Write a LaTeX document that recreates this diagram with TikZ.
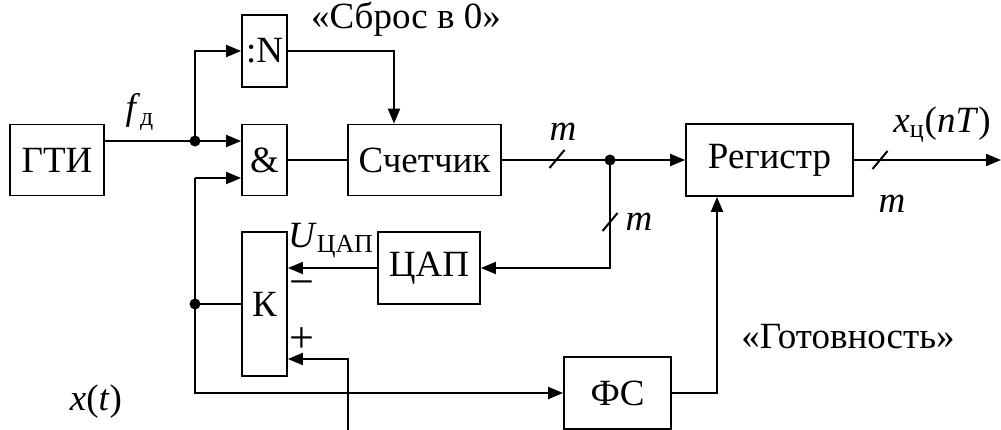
\documentclass[tikz,border=0pt]{standalone}
\usepackage{fontspec}
\setmainfont{Liberation Serif}
\usetikzlibrary{arrows.meta,calc}
\tikzset{
  blk/.style={draw, line width=0.9pt, inner sep=0pt, font=\fontsize{18.5}{20}\selectfont},
  wire/.style={line width=1pt},
  arr/.style={wire, -{Triangle[length=7.5pt,width=6pt]}},
  jdot/.style={circle, fill, inner sep=0pt, minimum size=5.5pt},
  lbl/.style={font=\fontsize{18.5}{20}\selectfont, inner sep=0pt}
}
\newcommand{\busmark}[1]{\draw[wire] (#1) ++(-7.5,9) -- ++(15,-18);}

\begin{document}
\begin{tikzpicture}[x=0.5pt,y=-0.5pt]
\useasboundingbox (0,0) rectangle (1001,429);
\clip (0,0) rectangle (1001,429);
\node[blk, minimum width=47pt, minimum height=35.5pt] (gti) at (57,160) {ГТИ};
\node[blk, minimum width=22.5pt, minimum height=36pt] (divN) at (264.5,51) {:N};
\node[blk, minimum width=22.5pt, minimum height=35.5pt] (andg) at (264.5,160) {\&};
\node[blk, minimum width=76.5pt, minimum height=35.5pt] (cnt) at (424.5,160) {Счетчик};
\node[blk, minimum width=83.5pt, minimum height=36pt] (reg) at (769.5,160) {Регистр};
\node[blk, minimum width=51pt, minimum height=36pt] (dac) at (429,268) {ЦАП};
\node[blk, minimum width=22.5pt, minimum height=72pt] (comp) at (264.5,304) {К};
\node[blk, minimum width=53.5pt, minimum height=36pt] (fs) at (617.5,393) {ФС};

\node[jdot] (j1) at (195,141) {};
\node[jdot] (j2) at (610,160) {};
\node[jdot] (j3) at (195,304) {};
\coordinate (a2) at ($(andg.west)+(0,18)$);
\coordinate (xin) at (348,440);
\coordinate (out) at (1001,160);

\draw[wire] (gti.east |- j1) -- (j1.center);
\draw[arr] (j1.center) -- (andg.west |- j1);
\draw[arr] (j1.center) |- (divN.west);
\draw[arr] (divN.east) -| ($(cnt.north)+(-30.5,0)$);
\draw[wire] (andg.east) -- (cnt.west);
\draw[arr] (cnt.east) -- (reg.west);
\draw[arr] (j2.center) |- (dac.east);
\draw[arr] (dac.west) -- (dac.west -| comp.east);
\draw[arr] (a2 -| j1) -- (a2);
\draw[arr] (a2 -| j1) |- (fs.west);
\draw[wire] (j3.center) -- (comp.west);
\draw[arr] (xin) |- ($(comp.east)+(0,55)$);
\draw[arr] (fs.east) -| ($(reg.south)+(-52.5,0)$);
\draw[arr] (reg.east) -- (out);
\busmark{557,159}
\busmark{610,222}
\busmark{880,160}

\node[lbl] (fd) at (140,112) {\textit{f}\textsubscript{д}};
\node[lbl] (rst) at (406,19) {«Сброс в 0»};
\node[lbl] (m1) at (563,132) {\textit{m}};
\node[lbl] (m2) at (639,222) {\textit{m}};
\node[lbl] (m3) at (892,204) {\textit{m}};
\node[lbl] (xq) at (942,125) {\textit{x}\textsubscript{ц}(\textit{nT})};
\node[lbl] (udac) at (331,241) {\textit{U}\textsubscript{ЦАП}};
\node[lbl, font=\fontsize{22}{24}\selectfont] (minus) at (302,289) {−};
\node[lbl, font=\fontsize{22}{24}\selectfont] (plus) at (302,340) {+};
\node[lbl] (rdy) at (848,337) {«Готовность»};
\node[lbl] (xt) at (96,402) {\textit{x}(\textit{t})};
\end{tikzpicture}
\end{document}
